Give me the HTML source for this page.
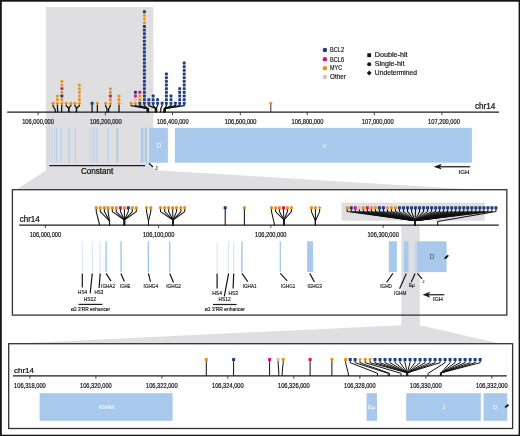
<!DOCTYPE html>
<html><head><meta charset="utf-8"><style>
html,body{margin:0;padding:0;background:#fff;}
svg{display:block;will-change:transform;font-family:"Liberation Sans", sans-serif;}
</style></head><body>
<svg width="520" height="436" viewBox="0 0 520 436">
<rect width="520" height="436" fill="#fff"/>
<rect x="0.00" y="0.00" width="520.00" height="1.70" fill="#151515" />
<rect x="0.00" y="0.00" width="1.80" height="436.00" fill="#151515" />
<rect x="518.60" y="0.00" width="1.40" height="436.00" fill="#151515" />
<rect x="0.00" y="434.70" width="520.00" height="1.30" fill="#151515" />
<polygon points="45.80,7.00 153.30,7.00 153.30,128.00 148.90,128.00 148.90,162.70 155.50,170.30 478.00,189.70 16.00,189.70 45.80,170.50" fill="#DFDFE1"/>
<line x1="7.20" y1="112.20" x2="499.00" y2="112.20" stroke="#1c1c1c" stroke-width="1.3" />
<line x1="38.10" y1="112.20" x2="38.10" y2="115.30" stroke="#1c1c1c" stroke-width="0.8" />
<text x="38.05" y="123.90" font-size="6.4" text-anchor="middle" fill="#111" stroke="#111" stroke-width="0.192" textLength="31.80" lengthAdjust="spacingAndGlyphs" >106,000,000</text>
<line x1="105.40" y1="112.20" x2="105.40" y2="115.30" stroke="#1c1c1c" stroke-width="0.8" />
<text x="105.80" y="123.90" font-size="6.4" text-anchor="middle" fill="#111" stroke="#111" stroke-width="0.192" textLength="31.80" lengthAdjust="spacingAndGlyphs" >106,200,000</text>
<line x1="172.50" y1="112.20" x2="172.50" y2="115.30" stroke="#1c1c1c" stroke-width="0.8" />
<text x="172.80" y="123.90" font-size="6.4" text-anchor="middle" fill="#111" stroke="#111" stroke-width="0.192" textLength="31.80" lengthAdjust="spacingAndGlyphs" >106,400,000</text>
<line x1="240.30" y1="112.20" x2="240.30" y2="115.30" stroke="#1c1c1c" stroke-width="0.8" />
<text x="240.60" y="123.90" font-size="6.4" text-anchor="middle" fill="#111" stroke="#111" stroke-width="0.192" textLength="31.80" lengthAdjust="spacingAndGlyphs" >106,600,000</text>
<line x1="307.20" y1="112.20" x2="307.20" y2="115.30" stroke="#1c1c1c" stroke-width="0.8" />
<text x="307.50" y="123.90" font-size="6.4" text-anchor="middle" fill="#111" stroke="#111" stroke-width="0.192" textLength="31.80" lengthAdjust="spacingAndGlyphs" >106,800,000</text>
<line x1="374.40" y1="112.20" x2="374.40" y2="115.30" stroke="#1c1c1c" stroke-width="0.8" />
<text x="377.70" y="123.90" font-size="6.4" text-anchor="middle" fill="#111" stroke="#111" stroke-width="0.192" textLength="31.80" lengthAdjust="spacingAndGlyphs" >107,000,000</text>
<line x1="441.90" y1="112.20" x2="441.90" y2="115.30" stroke="#1c1c1c" stroke-width="0.8" />
<text x="444.00" y="123.90" font-size="6.4" text-anchor="middle" fill="#111" stroke="#111" stroke-width="0.192" textLength="31.80" lengthAdjust="spacingAndGlyphs" >107,200,000</text>
<text x="474.90" y="109.25" font-size="8.2" text-anchor="start" fill="#111" stroke="#111" stroke-width="0.246" textLength="20.50" lengthAdjust="spacingAndGlyphs" >chr14</text>
<rect x="47.30" y="127.90" width="0.80" height="34.80" fill="#A8C9EC" opacity="0.35"/>
<rect x="49.20" y="127.90" width="0.80" height="34.80" fill="#A8C9EC" opacity="0.45"/>
<rect x="51.65" y="127.90" width="0.90" height="34.80" fill="#A8C9EC" opacity="0.55"/>
<rect x="54.20" y="127.90" width="0.80" height="34.80" fill="#A8C9EC" opacity="0.45"/>
<rect x="55.90" y="127.90" width="1.00" height="34.80" fill="#A8C9EC" opacity="0.8"/>
<rect x="60.20" y="127.90" width="1.20" height="34.80" fill="#A8C9EC" opacity="0.7"/>
<rect x="68.35" y="127.90" width="1.30" height="34.80" fill="#A8C9EC" opacity="0.75"/>
<rect x="74.90" y="127.90" width="1.00" height="34.80" fill="#A8C9EC" opacity="0.8"/>
<rect x="89.35" y="127.90" width="0.90" height="34.80" fill="#A8C9EC" opacity="0.45"/>
<rect x="92.25" y="127.90" width="0.90" height="34.80" fill="#A8C9EC" opacity="0.5"/>
<rect x="93.65" y="127.90" width="0.90" height="34.80" fill="#A8C9EC" opacity="0.55"/>
<rect x="96.30" y="127.90" width="1.00" height="34.80" fill="#A8C9EC" opacity="0.75"/>
<rect x="107.85" y="127.90" width="0.90" height="34.80" fill="#A8C9EC" opacity="0.8"/>
<rect x="116.55" y="127.90" width="1.50" height="34.80" fill="#A8C9EC" opacity="1.0"/>
<rect x="140.80" y="127.90" width="2.70" height="34.80" fill="#A8C9EC" />
<rect x="144.80" y="127.90" width="2.10" height="34.80" fill="#A8C9EC" />
<rect x="148.90" y="127.90" width="19.00" height="34.80" fill="#A8C9EC" />
<rect x="174.90" y="127.90" width="297.00" height="34.80" fill="#A8C9EC" />
<text x="158.90" y="147.80" font-size="6.4" text-anchor="middle" fill="#F2F7FD" stroke="#F2F7FD" stroke-width="0.15" >D</text>
<text x="324.60" y="147.80" font-size="6.0" text-anchor="middle" fill="#EAF1FA" stroke="#EAF1FA" stroke-width="0.15" >V</text>
<line x1="49.20" y1="165.60" x2="145.00" y2="165.60" stroke="#1c1c1c" stroke-width="1.2" />
<text x="81.00" y="174.40" font-size="8.3" text-anchor="start" fill="#111" stroke="#111" stroke-width="0.249" textLength="32.30" lengthAdjust="spacingAndGlyphs" >Constant</text>
<line x1="149.00" y1="163.20" x2="153.00" y2="167.00" stroke="#1c1c1c" stroke-width="1.2" />
<text x="155.00" y="169.80" font-size="5.2" text-anchor="start" fill="#333" stroke="#333" stroke-width="0.156" >J</text>
<line x1="439.00" y1="166.70" x2="470.10" y2="166.70" stroke="#3a3a3a" stroke-width="1.5" />
<polygon points="433.60,166.70 441.80,163.80 439.80,166.70 441.80,169.60" fill="#1c1c1c"/>
<text x="458.50" y="173.60" font-size="5.8" text-anchor="start" fill="#1a1a1a" stroke="#1a1a1a" stroke-width="0.174" textLength="10.90" lengthAdjust="spacingAndGlyphs" >IGH</text>
<circle cx="324.9" cy="50.10" r="2.25" fill="#1E3E7C"/>
<text x="330.10" y="52.30" font-size="6.6" text-anchor="start" fill="#222" stroke="#222" stroke-width="0.198" textLength="14.00" lengthAdjust="spacingAndGlyphs" >BCL2</text>
<circle cx="324.9" cy="59.30" r="2.25" fill="#D2147F"/>
<text x="330.10" y="61.50" font-size="6.6" text-anchor="start" fill="#222" stroke="#222" stroke-width="0.198" textLength="14.00" lengthAdjust="spacingAndGlyphs" >BCL6</text>
<circle cx="324.9" cy="68.20" r="2.25" fill="#E8901E"/>
<text x="330.10" y="70.40" font-size="6.6" text-anchor="start" fill="#222" stroke="#222" stroke-width="0.198" textLength="11.90" lengthAdjust="spacingAndGlyphs" >MYC</text>
<circle cx="324.9" cy="77.10" r="2.25" fill="#C9C9CD"/>
<text x="330.10" y="79.30" font-size="6.6" text-anchor="start" fill="#222" stroke="#222" stroke-width="0.198" textLength="15.70" lengthAdjust="spacingAndGlyphs" >Other</text>
<rect x="367.30" y="53.30" width="3.80" height="3.80" fill="#111" />
<circle cx="369.2" cy="64.2" r="2.0" fill="#111"/>
<polygon points="369.2,70.6 371.6,73.0 369.2,75.4 366.8,73.0" fill="#111"/>
<text x="374.80" y="57.30" font-size="6.7" text-anchor="start" fill="#222" stroke="#222" stroke-width="0.201" textLength="32.80" lengthAdjust="spacingAndGlyphs" >Double-hit</text>
<text x="374.80" y="66.40" font-size="6.7" text-anchor="start" fill="#222" stroke="#222" stroke-width="0.201" textLength="29.60" lengthAdjust="spacingAndGlyphs" >Single-hit</text>
<text x="374.80" y="75.20" font-size="6.7" text-anchor="start" fill="#222" stroke="#222" stroke-width="0.201" textLength="42.30" lengthAdjust="spacingAndGlyphs" >Undetermined</text>
<polyline points="53.00,104.50 53.00,105.70 55.30,110.00 55.30,112.20" fill="none" stroke="#111" stroke-width="1.25" stroke-linejoin="round"/>
<polyline points="57.40,104.50 57.40,105.70 57.60,110.00 57.60,112.20" fill="none" stroke="#111" stroke-width="1.25" stroke-linejoin="round"/>
<polyline points="61.90,104.50 61.90,105.70 61.60,110.00 61.60,112.20" fill="none" stroke="#111" stroke-width="1.25" stroke-linejoin="round"/>
<polyline points="66.20,104.50 66.20,105.70 68.80,108.20 68.80,112.20" fill="none" stroke="#111" stroke-width="1.25" stroke-linejoin="round"/>
<polyline points="70.80,104.50 70.80,105.70 68.80,108.20 68.80,112.20" fill="none" stroke="#111" stroke-width="1.25" stroke-linejoin="round"/>
<polyline points="74.90,104.50 74.90,105.70 76.50,108.20 76.50,112.20" fill="none" stroke="#111" stroke-width="1.25" stroke-linejoin="round"/>
<polyline points="79.40,104.50 79.40,105.70 76.50,108.20 76.50,112.20" fill="none" stroke="#111" stroke-width="1.25" stroke-linejoin="round"/>
<polyline points="92.10,104.50 92.10,105.70 92.10,110.00 92.10,112.20" fill="none" stroke="#111" stroke-width="1.25" stroke-linejoin="round"/>
<polyline points="97.40,104.50 97.40,105.70 97.40,110.00 97.40,112.20" fill="none" stroke="#111" stroke-width="1.25" stroke-linejoin="round"/>
<polyline points="105.60,104.50 105.60,105.70 107.00,109.00 107.00,112.20" fill="none" stroke="#111" stroke-width="1.25" stroke-linejoin="round"/>
<polyline points="110.40,104.50 110.40,105.70 108.60,109.00 108.60,112.20" fill="none" stroke="#111" stroke-width="1.25" stroke-linejoin="round"/>
<polyline points="119.00,104.50 119.00,105.70 119.00,110.00 119.00,112.20" fill="none" stroke="#111" stroke-width="1.25" stroke-linejoin="round"/>
<polyline points="131.10,104.50 131.10,105.70 147.80,108.60 147.80,112.20" fill="none" stroke="#111" stroke-width="1.25" stroke-linejoin="round"/>
<polyline points="135.40,104.50 135.40,105.70 147.80,108.60 147.80,112.20" fill="none" stroke="#111" stroke-width="1.25" stroke-linejoin="round"/>
<polyline points="139.80,104.50 139.80,105.70 147.80,108.60 147.80,112.20" fill="none" stroke="#111" stroke-width="1.25" stroke-linejoin="round"/>
<polyline points="144.40,104.50 144.40,105.70 147.80,108.60 147.80,112.20" fill="none" stroke="#111" stroke-width="1.25" stroke-linejoin="round"/>
<polyline points="148.80,104.50 148.80,105.70 156.00,108.60 156.00,112.20" fill="none" stroke="#111" stroke-width="1.25" stroke-linejoin="round"/>
<polyline points="153.20,104.50 153.20,105.70 156.00,108.60 156.00,112.20" fill="none" stroke="#111" stroke-width="1.25" stroke-linejoin="round"/>
<polyline points="157.60,104.50 157.60,105.70 156.00,108.60 156.00,112.20" fill="none" stroke="#111" stroke-width="1.25" stroke-linejoin="round"/>
<polyline points="162.10,104.50 162.10,105.70 160.80,108.60 160.80,112.20" fill="none" stroke="#111" stroke-width="1.25" stroke-linejoin="round"/>
<polyline points="166.40,104.50 166.40,105.70 164.60,108.60 164.60,112.20" fill="none" stroke="#111" stroke-width="1.25" stroke-linejoin="round"/>
<polyline points="171.00,104.50 171.00,105.70 164.60,108.60 164.60,112.20" fill="none" stroke="#111" stroke-width="1.25" stroke-linejoin="round"/>
<polyline points="175.40,104.50 175.40,105.70 164.60,108.60 164.60,112.20" fill="none" stroke="#111" stroke-width="1.25" stroke-linejoin="round"/>
<polyline points="179.70,104.50 179.70,105.70 164.60,108.60 164.60,112.20" fill="none" stroke="#111" stroke-width="1.25" stroke-linejoin="round"/>
<polyline points="184.20,104.50 184.20,105.70 164.60,108.60 164.60,112.20" fill="none" stroke="#111" stroke-width="1.25" stroke-linejoin="round"/>
<line x1="270.80" y1="103.30" x2="270.80" y2="112.20" stroke="#1c1c1c" stroke-width="0.9" />
<line x1="147.80" y1="108.30" x2="147.80" y2="112.20" stroke="#111" stroke-width="2.6" />
<line x1="156.00" y1="108.30" x2="156.00" y2="112.20" stroke="#111" stroke-width="2.6" />
<line x1="164.60" y1="108.30" x2="164.60" y2="112.20" stroke="#111" stroke-width="2.6" />
<circle cx="53.00" cy="103.30" r="1.52" fill="#E8901E"/>
<circle cx="57.40" cy="103.30" r="1.52" fill="#E8901E"/>
<circle cx="57.40" cy="99.64" r="1.52" fill="#E8901E"/>
<circle cx="57.40" cy="95.98" r="1.52" fill="#E8901E"/>
<circle cx="61.90" cy="103.30" r="1.52" fill="#E8901E"/>
<circle cx="61.90" cy="99.64" r="1.52" fill="#E8901E"/>
<rect x="60.45" y="94.53" width="2.90" height="2.90" rx="0.6" fill="#1E3E7C"/>
<circle cx="61.90" cy="92.32" r="1.52" fill="#E8901E"/>
<rect x="60.45" y="87.21" width="2.90" height="2.90" rx="0.6" fill="#D2147F"/>
<circle cx="61.90" cy="85.00" r="1.52" fill="#E8901E"/>
<circle cx="61.90" cy="81.34" r="1.52" fill="#E8901E"/>
<circle cx="66.20" cy="103.30" r="1.52" fill="#E8901E"/>
<circle cx="70.80" cy="103.30" r="1.52" fill="#E8901E"/>
<circle cx="74.90" cy="103.30" r="1.52" fill="#E8901E"/>
<circle cx="79.40" cy="103.30" r="1.52" fill="#E8901E"/>
<circle cx="79.40" cy="99.64" r="1.52" fill="#E8901E"/>
<polygon points="79.40,94.24 81.14,95.98 79.40,97.72 77.66,95.98" fill="#E8901E"/>
<circle cx="79.40" cy="92.32" r="1.52" fill="#E8901E"/>
<circle cx="79.40" cy="88.66" r="1.52" fill="#E8901E"/>
<circle cx="79.40" cy="85.00" r="1.52" fill="#E8901E"/>
<rect x="90.65" y="101.85" width="2.90" height="2.90" rx="0.6" fill="#1E3E7C"/>
<circle cx="97.40" cy="103.30" r="1.52" fill="#E8901E"/>
<circle cx="105.60" cy="103.30" r="1.52" fill="#E8901E"/>
<circle cx="110.40" cy="103.30" r="1.52" fill="#E8901E"/>
<circle cx="110.40" cy="99.64" r="1.52" fill="#E8901E"/>
<rect x="108.95" y="94.53" width="2.90" height="2.90" rx="0.6" fill="#D2147F"/>
<circle cx="110.40" cy="92.32" r="1.52" fill="#E8901E"/>
<circle cx="110.40" cy="88.66" r="1.52" fill="#E8901E"/>
<circle cx="119.00" cy="103.30" r="1.52" fill="#E8901E"/>
<circle cx="119.00" cy="99.64" r="1.52" fill="#E8901E"/>
<circle cx="119.00" cy="95.98" r="1.52" fill="#E8901E"/>
<circle cx="131.10" cy="103.30" r="1.52" fill="#E8901E"/>
<circle cx="135.40" cy="103.30" r="1.52" fill="#E8901E"/>
<circle cx="135.40" cy="99.64" r="1.52" fill="#C9C9CD"/>
<rect x="133.95" y="94.53" width="2.90" height="2.90" rx="0.6" fill="#D2147F"/>
<rect x="133.95" y="90.87" width="2.90" height="2.90" rx="0.6" fill="#1E3E7C"/>
<rect x="138.35" y="101.85" width="2.90" height="2.90" rx="0.6" fill="#1E3E7C"/>
<circle cx="139.80" cy="99.64" r="1.52" fill="#E8901E"/>
<circle cx="139.80" cy="95.98" r="1.52" fill="#E8901E"/>
<rect x="138.35" y="90.87" width="2.90" height="2.90" rx="0.6" fill="#D2147F"/>
<rect x="142.95" y="101.85" width="2.90" height="2.90" rx="0.6" fill="#1E3E7C"/>
<rect x="142.95" y="98.19" width="2.90" height="2.90" rx="0.6" fill="#1E3E7C"/>
<rect x="142.95" y="94.53" width="2.90" height="2.90" rx="0.6" fill="#1E3E7C"/>
<rect x="142.95" y="90.87" width="2.90" height="2.90" rx="0.6" fill="#1E3E7C"/>
<rect x="142.95" y="87.21" width="2.90" height="2.90" rx="0.6" fill="#1E3E7C"/>
<rect x="142.95" y="83.55" width="2.90" height="2.90" rx="0.6" fill="#1E3E7C"/>
<rect x="142.95" y="79.89" width="2.90" height="2.90" rx="0.6" fill="#1E3E7C"/>
<rect x="142.95" y="76.23" width="2.90" height="2.90" rx="0.6" fill="#1E3E7C"/>
<rect x="142.95" y="72.57" width="2.90" height="2.90" rx="0.6" fill="#1E3E7C"/>
<rect x="142.95" y="68.91" width="2.90" height="2.90" rx="0.6" fill="#1E3E7C"/>
<rect x="142.95" y="65.25" width="2.90" height="2.90" rx="0.6" fill="#1E3E7C"/>
<rect x="142.95" y="61.59" width="2.90" height="2.90" rx="0.6" fill="#1E3E7C"/>
<rect x="142.95" y="57.93" width="2.90" height="2.90" rx="0.6" fill="#1E3E7C"/>
<rect x="142.95" y="54.27" width="2.90" height="2.90" rx="0.6" fill="#1E3E7C"/>
<rect x="142.95" y="50.61" width="2.90" height="2.90" rx="0.6" fill="#1E3E7C"/>
<rect x="142.95" y="46.95" width="2.90" height="2.90" rx="0.6" fill="#1E3E7C"/>
<rect x="142.95" y="43.29" width="2.90" height="2.90" rx="0.6" fill="#1E3E7C"/>
<rect x="142.95" y="39.63" width="2.90" height="2.90" rx="0.6" fill="#1E3E7C"/>
<rect x="142.95" y="35.97" width="2.90" height="2.90" rx="0.6" fill="#1E3E7C"/>
<rect x="142.95" y="32.31" width="2.90" height="2.90" rx="0.6" fill="#1E3E7C"/>
<rect x="142.95" y="28.65" width="2.90" height="2.90" rx="0.6" fill="#1E3E7C"/>
<rect x="142.95" y="24.99" width="2.90" height="2.90" rx="0.6" fill="#1E3E7C"/>
<circle cx="144.40" cy="22.78" r="1.52" fill="#E8901E"/>
<polygon points="144.40,17.38 146.14,19.12 144.40,20.86 142.66,19.12" fill="#E8901E"/>
<circle cx="144.40" cy="15.46" r="1.52" fill="#E8901E"/>
<rect x="142.95" y="10.35" width="2.90" height="2.90" rx="0.6" fill="#1E3E7C"/>
<rect x="147.35" y="101.85" width="2.90" height="2.90" rx="0.6" fill="#1E3E7C"/>
<rect x="147.35" y="98.19" width="2.90" height="2.90" rx="0.6" fill="#1E3E7C"/>
<rect x="151.75" y="101.85" width="2.90" height="2.90" rx="0.6" fill="#1E3E7C"/>
<rect x="151.75" y="98.19" width="2.90" height="2.90" rx="0.6" fill="#1E3E7C"/>
<rect x="151.75" y="94.53" width="2.90" height="2.90" rx="0.6" fill="#1E3E7C"/>
<rect x="156.15" y="101.85" width="2.90" height="2.90" rx="0.6" fill="#1E3E7C"/>
<rect x="156.15" y="98.19" width="2.90" height="2.90" rx="0.6" fill="#1E3E7C"/>
<rect x="160.65" y="101.85" width="2.90" height="2.90" rx="0.6" fill="#1E3E7C"/>
<rect x="164.95" y="101.85" width="2.90" height="2.90" rx="0.6" fill="#1E3E7C"/>
<rect x="164.95" y="98.19" width="2.90" height="2.90" rx="0.6" fill="#1E3E7C"/>
<rect x="164.95" y="94.53" width="2.90" height="2.90" rx="0.6" fill="#1E3E7C"/>
<rect x="164.95" y="90.87" width="2.90" height="2.90" rx="0.6" fill="#1E3E7C"/>
<rect x="164.95" y="87.21" width="2.90" height="2.90" rx="0.6" fill="#1E3E7C"/>
<rect x="164.95" y="83.55" width="2.90" height="2.90" rx="0.6" fill="#1E3E7C"/>
<rect x="164.95" y="79.89" width="2.90" height="2.90" rx="0.6" fill="#1E3E7C"/>
<rect x="164.95" y="76.23" width="2.90" height="2.90" rx="0.6" fill="#1E3E7C"/>
<rect x="164.95" y="72.57" width="2.90" height="2.90" rx="0.6" fill="#1E3E7C"/>
<rect x="169.55" y="101.85" width="2.90" height="2.90" rx="0.6" fill="#1E3E7C"/>
<rect x="169.55" y="98.19" width="2.90" height="2.90" rx="0.6" fill="#1E3E7C"/>
<rect x="169.55" y="94.53" width="2.90" height="2.90" rx="0.6" fill="#1E3E7C"/>
<rect x="173.95" y="101.85" width="2.90" height="2.90" rx="0.6" fill="#1E3E7C"/>
<rect x="178.25" y="101.85" width="2.90" height="2.90" rx="0.6" fill="#1E3E7C"/>
<rect x="178.25" y="98.19" width="2.90" height="2.90" rx="0.6" fill="#1E3E7C"/>
<rect x="178.25" y="94.53" width="2.90" height="2.90" rx="0.6" fill="#1E3E7C"/>
<rect x="178.25" y="90.87" width="2.90" height="2.90" rx="0.6" fill="#1E3E7C"/>
<rect x="178.25" y="87.21" width="2.90" height="2.90" rx="0.6" fill="#1E3E7C"/>
<rect x="182.75" y="101.85" width="2.90" height="2.90" rx="0.6" fill="#1E3E7C"/>
<rect x="182.75" y="98.19" width="2.90" height="2.90" rx="0.6" fill="#1E3E7C"/>
<rect x="182.75" y="94.53" width="2.90" height="2.90" rx="0.6" fill="#1E3E7C"/>
<rect x="182.75" y="90.87" width="2.90" height="2.90" rx="0.6" fill="#1E3E7C"/>
<rect x="182.75" y="87.21" width="2.90" height="2.90" rx="0.6" fill="#1E3E7C"/>
<rect x="182.75" y="83.55" width="2.90" height="2.90" rx="0.6" fill="#1E3E7C"/>
<rect x="182.75" y="79.89" width="2.90" height="2.90" rx="0.6" fill="#1E3E7C"/>
<rect x="182.75" y="76.23" width="2.90" height="2.90" rx="0.6" fill="#1E3E7C"/>
<rect x="182.75" y="72.57" width="2.90" height="2.90" rx="0.6" fill="#1E3E7C"/>
<rect x="182.75" y="68.91" width="2.90" height="2.90" rx="0.6" fill="#1E3E7C"/>
<rect x="182.75" y="65.25" width="2.90" height="2.90" rx="0.6" fill="#1E3E7C"/>
<rect x="182.75" y="61.59" width="2.90" height="2.90" rx="0.6" fill="#1E3E7C"/>
<circle cx="270.80" cy="103.30" r="1.52" fill="#E8901E"/>
<polygon points="401.30,226.00 419.80,226.00 419.80,325.20 501.50,343.70 12.00,343.70 401.30,325.20" fill="#DFDFE1"/>
<rect x="12.4" y="189.7" width="494.4" height="125.4" fill="none" stroke="#333" stroke-width="1.3"/>
<rect x="341.50" y="202.60" width="143.30" height="18.10" fill="#DFDFE1" />
<line x1="19.20" y1="225.20" x2="498.80" y2="225.20" stroke="#1c1c1c" stroke-width="1.3" />
<text x="19.75" y="221.80" font-size="8.2" text-anchor="start" fill="#111" stroke="#111" stroke-width="0.246" textLength="19.90" lengthAdjust="spacingAndGlyphs" >chr14</text>
<line x1="45.40" y1="225.20" x2="45.40" y2="227.90" stroke="#1c1c1c" stroke-width="0.8" />
<text x="45.40" y="236.90" font-size="6.4" text-anchor="middle" fill="#111" stroke="#111" stroke-width="0.192" textLength="31.40" lengthAdjust="spacingAndGlyphs" >106,000,000</text>
<line x1="158.60" y1="225.20" x2="158.60" y2="227.90" stroke="#1c1c1c" stroke-width="0.8" />
<text x="158.60" y="236.90" font-size="6.4" text-anchor="middle" fill="#111" stroke="#111" stroke-width="0.192" textLength="31.40" lengthAdjust="spacingAndGlyphs" >106,100,000</text>
<line x1="270.80" y1="225.20" x2="270.80" y2="227.90" stroke="#1c1c1c" stroke-width="0.8" />
<text x="270.80" y="236.90" font-size="6.4" text-anchor="middle" fill="#111" stroke="#111" stroke-width="0.192" textLength="31.40" lengthAdjust="spacingAndGlyphs" >106,200,000</text>
<line x1="383.10" y1="225.20" x2="383.10" y2="227.90" stroke="#1c1c1c" stroke-width="0.8" />
<text x="383.10" y="236.90" font-size="6.4" text-anchor="middle" fill="#111" stroke="#111" stroke-width="0.192" textLength="31.40" lengthAdjust="spacingAndGlyphs" >106,300,000</text>
<polyline points="96.25,209.00 96.25,211.60 99.40,224.00 99.40,225.20" fill="none" stroke="#111" stroke-width="1.05" stroke-linejoin="round"/>
<polyline points="100.30,209.00 100.30,211.60 109.50,221.00 109.50,225.20" fill="none" stroke="#111" stroke-width="1.05" stroke-linejoin="round"/>
<polyline points="104.40,209.00 104.40,211.60 109.50,221.00 109.50,225.20" fill="none" stroke="#111" stroke-width="1.05" stroke-linejoin="round"/>
<polyline points="108.10,209.00 108.10,211.60 109.50,221.00 109.50,225.20" fill="none" stroke="#111" stroke-width="1.05" stroke-linejoin="round"/>
<polyline points="112.30,209.00 112.30,211.60 124.40,220.00 124.40,225.20" fill="none" stroke="#111" stroke-width="1.05" stroke-linejoin="round"/>
<polyline points="116.25,209.00 116.25,211.60 124.40,220.00 124.40,225.20" fill="none" stroke="#111" stroke-width="1.05" stroke-linejoin="round"/>
<polyline points="120.40,209.00 120.40,211.60 124.40,220.00 124.40,225.20" fill="none" stroke="#111" stroke-width="1.05" stroke-linejoin="round"/>
<polyline points="124.40,209.00 124.40,211.60 124.40,220.00 124.40,225.20" fill="none" stroke="#111" stroke-width="1.05" stroke-linejoin="round"/>
<polyline points="128.30,209.00 128.30,211.60 124.40,220.00 124.40,225.20" fill="none" stroke="#111" stroke-width="1.05" stroke-linejoin="round"/>
<polyline points="132.30,209.00 132.30,211.60 124.40,220.00 124.40,225.20" fill="none" stroke="#111" stroke-width="1.05" stroke-linejoin="round"/>
<polyline points="136.30,209.00 136.30,211.60 124.40,220.00 124.40,225.20" fill="none" stroke="#111" stroke-width="1.05" stroke-linejoin="round"/>
<polyline points="146.50,209.00 146.50,211.60 148.50,221.00 148.50,225.20" fill="none" stroke="#111" stroke-width="1.05" stroke-linejoin="round"/>
<polyline points="150.80,209.00 150.80,211.60 148.50,221.00 148.50,225.20" fill="none" stroke="#111" stroke-width="1.05" stroke-linejoin="round"/>
<polyline points="160.50,209.00 160.50,211.60 173.00,220.00 173.00,225.20" fill="none" stroke="#111" stroke-width="1.05" stroke-linejoin="round"/>
<polyline points="164.70,209.00 164.70,211.60 173.00,220.00 173.00,225.20" fill="none" stroke="#111" stroke-width="1.05" stroke-linejoin="round"/>
<polyline points="168.60,209.00 168.60,211.60 173.00,220.00 173.00,225.20" fill="none" stroke="#111" stroke-width="1.05" stroke-linejoin="round"/>
<polyline points="172.70,209.00 172.70,211.60 173.00,220.00 173.00,225.20" fill="none" stroke="#111" stroke-width="1.05" stroke-linejoin="round"/>
<polyline points="176.50,209.00 176.50,211.60 173.00,220.00 173.00,225.20" fill="none" stroke="#111" stroke-width="1.05" stroke-linejoin="round"/>
<polyline points="180.90,209.00 180.90,211.60 173.00,220.00 173.00,225.20" fill="none" stroke="#111" stroke-width="1.05" stroke-linejoin="round"/>
<polyline points="184.70,209.00 184.70,211.60 173.00,220.00 173.00,225.20" fill="none" stroke="#111" stroke-width="1.05" stroke-linejoin="round"/>
<polyline points="225.20,209.00 225.20,211.60 225.20,222.00 225.20,225.20" fill="none" stroke="#111" stroke-width="1.05" stroke-linejoin="round"/>
<polyline points="244.40,209.00 244.40,211.60 244.40,222.00 244.40,225.20" fill="none" stroke="#111" stroke-width="1.05" stroke-linejoin="round"/>
<polyline points="271.50,209.00 271.50,211.60 274.40,224.00 274.40,225.20" fill="none" stroke="#111" stroke-width="1.05" stroke-linejoin="round"/>
<polyline points="275.60,209.00 275.60,211.60 284.00,220.00 284.00,225.20" fill="none" stroke="#111" stroke-width="1.05" stroke-linejoin="round"/>
<polyline points="279.40,209.00 279.40,211.60 284.00,220.00 284.00,225.20" fill="none" stroke="#111" stroke-width="1.05" stroke-linejoin="round"/>
<polyline points="283.50,209.00 283.50,211.60 284.00,220.00 284.00,225.20" fill="none" stroke="#111" stroke-width="1.05" stroke-linejoin="round"/>
<polyline points="287.40,209.00 287.40,211.60 284.00,220.00 284.00,225.20" fill="none" stroke="#111" stroke-width="1.05" stroke-linejoin="round"/>
<polyline points="291.40,209.00 291.40,211.60 284.00,220.00 284.00,225.20" fill="none" stroke="#111" stroke-width="1.05" stroke-linejoin="round"/>
<polyline points="311.40,209.00 311.40,211.60 315.40,221.00 315.40,225.20" fill="none" stroke="#111" stroke-width="1.05" stroke-linejoin="round"/>
<polyline points="315.40,209.00 315.40,211.60 315.40,221.00 315.40,225.20" fill="none" stroke="#111" stroke-width="1.05" stroke-linejoin="round"/>
<polyline points="319.60,209.00 319.60,211.60 315.40,221.00 315.40,225.20" fill="none" stroke="#111" stroke-width="1.05" stroke-linejoin="round"/>
<polyline points="347.20,209.00 347.20,211.60 415.00,220.80 415.00,225.20" fill="none" stroke="#111" stroke-width="1.05" stroke-linejoin="round"/>
<polyline points="351.22,209.00 351.22,211.60 415.00,220.80 415.00,225.20" fill="none" stroke="#111" stroke-width="1.05" stroke-linejoin="round"/>
<polyline points="355.24,209.00 355.24,211.60 415.00,220.80 415.00,225.20" fill="none" stroke="#111" stroke-width="1.05" stroke-linejoin="round"/>
<polyline points="359.26,209.00 359.26,211.60 415.00,220.80 415.00,225.20" fill="none" stroke="#111" stroke-width="1.05" stroke-linejoin="round"/>
<polyline points="363.28,209.00 363.28,211.60 415.00,220.80 415.00,225.20" fill="none" stroke="#111" stroke-width="1.05" stroke-linejoin="round"/>
<polyline points="367.30,209.00 367.30,211.60 415.00,220.80 415.00,225.20" fill="none" stroke="#111" stroke-width="1.05" stroke-linejoin="round"/>
<polyline points="371.32,209.00 371.32,211.60 415.00,220.80 415.00,225.20" fill="none" stroke="#111" stroke-width="1.05" stroke-linejoin="round"/>
<polyline points="375.34,209.00 375.34,211.60 415.00,220.80 415.00,225.20" fill="none" stroke="#111" stroke-width="1.05" stroke-linejoin="round"/>
<polyline points="379.36,209.00 379.36,211.60 415.00,220.80 415.00,225.20" fill="none" stroke="#111" stroke-width="1.05" stroke-linejoin="round"/>
<polyline points="383.38,209.00 383.38,211.60 415.00,220.80 415.00,225.20" fill="none" stroke="#111" stroke-width="1.05" stroke-linejoin="round"/>
<polyline points="387.40,209.00 387.40,211.60 415.00,220.80 415.00,225.20" fill="none" stroke="#111" stroke-width="1.05" stroke-linejoin="round"/>
<polyline points="391.42,209.00 391.42,211.60 415.00,220.80 415.00,225.20" fill="none" stroke="#111" stroke-width="1.05" stroke-linejoin="round"/>
<polyline points="395.44,209.00 395.44,211.60 415.00,220.80 415.00,225.20" fill="none" stroke="#111" stroke-width="1.05" stroke-linejoin="round"/>
<polyline points="399.46,209.00 399.46,211.60 415.00,220.80 415.00,225.20" fill="none" stroke="#111" stroke-width="1.05" stroke-linejoin="round"/>
<polyline points="403.48,209.00 403.48,211.60 415.00,220.80 415.00,225.20" fill="none" stroke="#111" stroke-width="1.05" stroke-linejoin="round"/>
<polyline points="407.50,209.00 407.50,211.60 415.00,220.80 415.00,225.20" fill="none" stroke="#111" stroke-width="1.05" stroke-linejoin="round"/>
<polyline points="411.52,209.00 411.52,211.60 415.00,220.80 415.00,225.20" fill="none" stroke="#111" stroke-width="1.05" stroke-linejoin="round"/>
<polyline points="415.54,209.00 415.54,211.60 415.00,220.80 415.00,225.20" fill="none" stroke="#111" stroke-width="1.05" stroke-linejoin="round"/>
<polyline points="419.56,209.00 419.56,211.60 415.00,220.80 415.00,225.20" fill="none" stroke="#111" stroke-width="1.05" stroke-linejoin="round"/>
<polyline points="423.58,209.00 423.58,211.60 415.00,220.80 415.00,225.20" fill="none" stroke="#111" stroke-width="1.05" stroke-linejoin="round"/>
<polyline points="427.60,209.00 427.60,211.60 415.00,220.80 415.00,225.20" fill="none" stroke="#111" stroke-width="1.05" stroke-linejoin="round"/>
<polyline points="431.62,209.00 431.62,211.60 415.00,220.80 415.00,225.20" fill="none" stroke="#111" stroke-width="1.05" stroke-linejoin="round"/>
<polyline points="435.64,209.00 435.64,211.60 415.00,220.80 415.00,225.20" fill="none" stroke="#111" stroke-width="1.05" stroke-linejoin="round"/>
<polyline points="439.66,209.00 439.66,211.60 415.00,220.80 415.00,225.20" fill="none" stroke="#111" stroke-width="1.05" stroke-linejoin="round"/>
<polyline points="443.68,209.00 443.68,211.60 415.00,220.80 415.00,225.20" fill="none" stroke="#111" stroke-width="1.05" stroke-linejoin="round"/>
<polyline points="447.70,209.00 447.70,211.60 415.00,220.80 415.00,225.20" fill="none" stroke="#111" stroke-width="1.05" stroke-linejoin="round"/>
<polyline points="451.72,209.00 451.72,211.60 415.00,220.80 415.00,225.20" fill="none" stroke="#111" stroke-width="1.05" stroke-linejoin="round"/>
<polyline points="455.74,209.00 455.74,211.60 415.00,220.80 415.00,225.20" fill="none" stroke="#111" stroke-width="1.05" stroke-linejoin="round"/>
<polyline points="459.76,209.00 459.76,211.60 415.00,220.80 415.00,225.20" fill="none" stroke="#111" stroke-width="1.05" stroke-linejoin="round"/>
<polyline points="463.78,209.00 463.78,211.60 415.00,220.80 415.00,225.20" fill="none" stroke="#111" stroke-width="1.05" stroke-linejoin="round"/>
<polyline points="467.80,209.00 467.80,211.60 415.00,220.80 415.00,225.20" fill="none" stroke="#111" stroke-width="1.05" stroke-linejoin="round"/>
<polyline points="471.82,209.00 471.82,211.60 415.00,220.80 415.00,225.20" fill="none" stroke="#111" stroke-width="1.05" stroke-linejoin="round"/>
<polyline points="475.84,209.00 475.84,211.60 415.00,220.80 415.00,225.20" fill="none" stroke="#111" stroke-width="1.05" stroke-linejoin="round"/>
<polyline points="479.86,209.00 479.86,211.60 415.00,220.80 415.00,225.20" fill="none" stroke="#111" stroke-width="1.05" stroke-linejoin="round"/>
<polyline points="483.88,209.00 483.88,211.60 415.00,220.80 415.00,225.20" fill="none" stroke="#111" stroke-width="1.05" stroke-linejoin="round"/>
<polyline points="487.90,209.00 487.90,211.60 415.00,220.80 415.00,225.20" fill="none" stroke="#111" stroke-width="1.05" stroke-linejoin="round"/>
<polyline points="491.92,209.00 491.92,211.60 415.00,220.80 415.00,225.20" fill="none" stroke="#111" stroke-width="1.05" stroke-linejoin="round"/>
<polyline points="495.94,209.00 495.94,211.60 437.70,221.50 437.70,225.20" fill="none" stroke="#111" stroke-width="1.05" stroke-linejoin="round"/>
<line x1="124.40" y1="220.00" x2="124.40" y2="225.20" stroke="#1c1c1c" stroke-width="2.0" />
<line x1="173.00" y1="220.00" x2="173.00" y2="225.20" stroke="#1c1c1c" stroke-width="2.0" />
<line x1="284.00" y1="220.00" x2="284.00" y2="225.20" stroke="#1c1c1c" stroke-width="2.0" />
<line x1="415.00" y1="220.80" x2="415.00" y2="225.20" stroke="#1c1c1c" stroke-width="2.0" />
<rect x="94.70" y="206.15" width="3.10" height="3.10" rx="0.6" fill="#E8901E"/>
<circle cx="100.30" cy="207.70" r="1.63" fill="#E8901E"/>
<rect x="102.85" y="206.15" width="3.10" height="3.10" rx="0.6" fill="#E8901E"/>
<rect x="106.55" y="206.15" width="3.10" height="3.10" rx="0.6" fill="#E8901E"/>
<rect x="110.75" y="206.15" width="3.10" height="3.10" rx="0.6" fill="#E8901E"/>
<rect x="114.70" y="206.15" width="3.10" height="3.10" rx="0.6" fill="#E8901E"/>
<rect x="118.85" y="206.15" width="3.10" height="3.10" rx="0.6" fill="#D2147F"/>
<rect x="122.85" y="206.15" width="3.10" height="3.10" rx="0.6" fill="#E8901E"/>
<rect x="126.75" y="206.15" width="3.10" height="3.10" rx="0.6" fill="#1E3E7C"/>
<rect x="130.75" y="206.15" width="3.10" height="3.10" rx="0.6" fill="#E8901E"/>
<rect x="134.75" y="206.15" width="3.10" height="3.10" rx="0.6" fill="#E8901E"/>
<circle cx="146.50" cy="207.70" r="1.63" fill="#E8901E"/>
<circle cx="150.80" cy="207.70" r="1.63" fill="#E8901E"/>
<circle cx="160.50" cy="207.70" r="1.63" fill="#E8901E"/>
<circle cx="164.70" cy="207.70" r="1.63" fill="#E8901E"/>
<circle cx="168.60" cy="207.70" r="1.63" fill="#E8901E"/>
<circle cx="172.70" cy="207.70" r="1.63" fill="#E8901E"/>
<circle cx="176.50" cy="207.70" r="1.63" fill="#E8901E"/>
<circle cx="180.90" cy="207.70" r="1.63" fill="#E8901E"/>
<circle cx="184.70" cy="207.70" r="1.63" fill="#E8901E"/>
<rect x="223.65" y="206.15" width="3.10" height="3.10" rx="0.6" fill="#1E3E7C"/>
<rect x="242.85" y="206.15" width="3.10" height="3.10" rx="0.6" fill="#E8901E"/>
<circle cx="271.50" cy="207.70" r="1.63" fill="#E8901E"/>
<circle cx="275.60" cy="207.70" r="1.63" fill="#E8901E"/>
<rect x="277.85" y="206.15" width="3.10" height="3.10" rx="0.6" fill="#E8901E"/>
<rect x="281.95" y="206.15" width="3.10" height="3.10" rx="0.6" fill="#D2147F"/>
<rect x="285.85" y="206.15" width="3.10" height="3.10" rx="0.6" fill="#E8901E"/>
<circle cx="291.40" cy="207.70" r="1.63" fill="#E8901E"/>
<rect x="309.85" y="206.15" width="3.10" height="3.10" rx="0.6" fill="#E8901E"/>
<circle cx="315.40" cy="207.70" r="1.63" fill="#E8901E"/>
<polygon points="319.60,205.84 321.46,207.70 319.60,209.56 317.74,207.70" fill="#E8901E"/>
<rect x="345.65" y="206.15" width="3.10" height="3.10" rx="0.6" fill="#E8901E"/>
<rect x="349.67" y="206.15" width="3.10" height="3.10" rx="0.6" fill="#1E3E7C"/>
<rect x="353.69" y="206.15" width="3.10" height="3.10" rx="0.6" fill="#D2147F"/>
<rect x="357.71" y="206.15" width="3.10" height="3.10" rx="0.6" fill="#C9C9CD"/>
<circle cx="363.28" cy="207.70" r="1.63" fill="#E8901E"/>
<rect x="365.75" y="206.15" width="3.10" height="3.10" rx="0.6" fill="#D2147F"/>
<circle cx="371.32" cy="207.70" r="1.63" fill="#E8901E"/>
<circle cx="375.34" cy="207.70" r="1.63" fill="#E8901E"/>
<rect x="377.81" y="206.15" width="3.10" height="3.10" rx="0.6" fill="#1E3E7C"/>
<rect x="381.83" y="206.15" width="3.10" height="3.10" rx="0.6" fill="#1E3E7C"/>
<polygon points="387.40,205.84 389.26,207.70 387.40,209.56 385.54,207.70" fill="#E8901E"/>
<circle cx="391.42" cy="207.70" r="1.63" fill="#E8901E"/>
<circle cx="395.44" cy="207.70" r="1.63" fill="#E8901E"/>
<rect x="397.91" y="206.15" width="3.10" height="3.10" rx="0.6" fill="#1E3E7C"/>
<rect x="401.93" y="206.15" width="3.10" height="3.10" rx="0.6" fill="#1E3E7C"/>
<rect x="405.95" y="206.15" width="3.10" height="3.10" rx="0.6" fill="#1E3E7C"/>
<rect x="409.97" y="206.15" width="3.10" height="3.10" rx="0.6" fill="#1E3E7C"/>
<rect x="413.99" y="206.15" width="3.10" height="3.10" rx="0.6" fill="#1E3E7C"/>
<rect x="418.01" y="206.15" width="3.10" height="3.10" rx="0.6" fill="#1E3E7C"/>
<rect x="422.03" y="206.15" width="3.10" height="3.10" rx="0.6" fill="#1E3E7C"/>
<rect x="426.05" y="206.15" width="3.10" height="3.10" rx="0.6" fill="#1E3E7C"/>
<rect x="430.07" y="206.15" width="3.10" height="3.10" rx="0.6" fill="#1E3E7C"/>
<rect x="434.09" y="206.15" width="3.10" height="3.10" rx="0.6" fill="#1E3E7C"/>
<rect x="438.11" y="206.15" width="3.10" height="3.10" rx="0.6" fill="#1E3E7C"/>
<rect x="442.13" y="206.15" width="3.10" height="3.10" rx="0.6" fill="#1E3E7C"/>
<rect x="446.15" y="206.15" width="3.10" height="3.10" rx="0.6" fill="#1E3E7C"/>
<rect x="450.17" y="206.15" width="3.10" height="3.10" rx="0.6" fill="#1E3E7C"/>
<rect x="454.19" y="206.15" width="3.10" height="3.10" rx="0.6" fill="#1E3E7C"/>
<rect x="458.21" y="206.15" width="3.10" height="3.10" rx="0.6" fill="#1E3E7C"/>
<rect x="462.23" y="206.15" width="3.10" height="3.10" rx="0.6" fill="#1E3E7C"/>
<rect x="466.25" y="206.15" width="3.10" height="3.10" rx="0.6" fill="#1E3E7C"/>
<rect x="470.27" y="206.15" width="3.10" height="3.10" rx="0.6" fill="#1E3E7C"/>
<rect x="474.29" y="206.15" width="3.10" height="3.10" rx="0.6" fill="#1E3E7C"/>
<rect x="478.31" y="206.15" width="3.10" height="3.10" rx="0.6" fill="#1E3E7C"/>
<rect x="482.33" y="206.15" width="3.10" height="3.10" rx="0.6" fill="#1E3E7C"/>
<rect x="486.35" y="206.15" width="3.10" height="3.10" rx="0.6" fill="#1E3E7C"/>
<rect x="490.37" y="206.15" width="3.10" height="3.10" rx="0.6" fill="#1E3E7C"/>
<rect x="494.39" y="206.15" width="3.10" height="3.10" rx="0.6" fill="#1E3E7C"/>
<rect x="81.90" y="241.30" width="0.80" height="30.80" fill="#A8C9EC" opacity="0.6"/>
<rect x="91.90" y="241.30" width="0.80" height="30.80" fill="#A8C9EC" opacity="0.6"/>
<rect x="99.55" y="241.30" width="1.10" height="30.80" fill="#A8C9EC" opacity="0.5"/>
<rect x="105.35" y="241.30" width="1.50" height="30.80" fill="#A8C9EC" opacity="1.0"/>
<rect x="120.35" y="241.30" width="1.50" height="30.80" fill="#A8C9EC" opacity="1.0"/>
<rect x="147.65" y="241.30" width="1.50" height="30.80" fill="#A8C9EC" opacity="1.0"/>
<rect x="168.95" y="241.30" width="1.50" height="30.80" fill="#A8C9EC" opacity="1.0"/>
<rect x="216.70" y="241.30" width="0.80" height="30.80" fill="#A8C9EC" opacity="0.6"/>
<rect x="228.10" y="241.30" width="1.00" height="30.80" fill="#A8C9EC" opacity="0.5"/>
<rect x="233.20" y="241.30" width="1.00" height="30.80" fill="#A8C9EC" opacity="0.55"/>
<rect x="241.15" y="241.30" width="1.50" height="30.80" fill="#A8C9EC" opacity="1.0"/>
<rect x="279.65" y="241.30" width="1.30" height="30.80" fill="#A8C9EC" opacity="1.0"/>
<rect x="307.10" y="241.30" width="6.00" height="30.80" fill="#A8C9EC" />
<rect x="388.80" y="241.30" width="8.10" height="30.80" fill="#A8C9EC" />
<rect x="403.80" y="241.30" width="4.80" height="30.80" fill="#A8C9EC" />
<rect x="414.60" y="241.30" width="0.90" height="30.80" fill="#A8C9EC" opacity="0.6"/>
<rect x="416.60" y="241.30" width="30.00" height="30.80" fill="#A8C9EC" />
<text x="432.10" y="259.00" font-size="6.4" text-anchor="middle" fill="#2E3F5C" >D</text>
<ellipse cx="446.5" cy="257.0" rx="2.7" ry="1.1" transform="rotate(-42 446.5 257.0)" fill="#111"/>
<line x1="82.30" y1="273.40" x2="82.30" y2="287.50" stroke="#151515" stroke-width="1.2" />
<text x="78.10" y="294.00" font-size="5.6" text-anchor="start" fill="#1a1a1a" stroke="#1a1a1a" stroke-width="0.168" textLength="9.00" lengthAdjust="spacingAndGlyphs" >HS4</text>
<line x1="92.30" y1="273.40" x2="90.20" y2="293.30" stroke="#151515" stroke-width="1.2" />
<text x="83.80" y="301.40" font-size="5.6" text-anchor="start" fill="#1a1a1a" stroke="#1a1a1a" stroke-width="0.168" textLength="12.30" lengthAdjust="spacingAndGlyphs" >HS12</text>
<line x1="100.20" y1="273.40" x2="99.10" y2="288.00" stroke="#151515" stroke-width="1.2" />
<text x="94.50" y="294.00" font-size="5.6" text-anchor="start" fill="#1a1a1a" stroke="#1a1a1a" stroke-width="0.168" textLength="8.90" lengthAdjust="spacingAndGlyphs" >HS3</text>
<line x1="106.10" y1="273.40" x2="111.00" y2="281.10" stroke="#151515" stroke-width="1.2" />
<text x="101.10" y="287.70" font-size="5.6" text-anchor="start" fill="#1a1a1a" stroke="#1a1a1a" stroke-width="0.168" textLength="13.90" lengthAdjust="spacingAndGlyphs" >IGHA2</text>
<line x1="120.90" y1="273.40" x2="124.40" y2="281.50" stroke="#151515" stroke-width="1.2" />
<text x="120.10" y="287.70" font-size="5.6" text-anchor="start" fill="#1a1a1a" stroke="#1a1a1a" stroke-width="0.168" textLength="10.30" lengthAdjust="spacingAndGlyphs" >IGHE</text>
<line x1="148.40" y1="273.40" x2="150.50" y2="281.80" stroke="#151515" stroke-width="1.2" />
<text x="143.60" y="287.70" font-size="5.6" text-anchor="start" fill="#1a1a1a" stroke="#1a1a1a" stroke-width="0.168" textLength="14.40" lengthAdjust="spacingAndGlyphs" >IGHG4</text>
<line x1="169.70" y1="273.40" x2="173.50" y2="282.50" stroke="#151515" stroke-width="1.2" />
<text x="166.20" y="288.40" font-size="5.6" text-anchor="start" fill="#1a1a1a" stroke="#1a1a1a" stroke-width="0.168" textLength="14.80" lengthAdjust="spacingAndGlyphs" >IGHG2</text>
<line x1="217.10" y1="273.40" x2="217.10" y2="288.50" stroke="#151515" stroke-width="1.2" />
<text x="212.20" y="295.00" font-size="5.6" text-anchor="start" fill="#1a1a1a" stroke="#1a1a1a" stroke-width="0.168" textLength="9.80" lengthAdjust="spacingAndGlyphs" >HS4</text>
<line x1="228.60" y1="273.40" x2="224.30" y2="296.30" stroke="#151515" stroke-width="1.2" />
<text x="218.50" y="301.40" font-size="5.6" text-anchor="start" fill="#1a1a1a" stroke="#1a1a1a" stroke-width="0.168" textLength="12.10" lengthAdjust="spacingAndGlyphs" >HS12</text>
<line x1="233.70" y1="273.40" x2="233.10" y2="288.50" stroke="#151515" stroke-width="1.2" />
<text x="228.60" y="295.00" font-size="5.6" text-anchor="start" fill="#1a1a1a" stroke="#1a1a1a" stroke-width="0.168" textLength="9.40" lengthAdjust="spacingAndGlyphs" >HS3</text>
<line x1="241.90" y1="273.40" x2="247.70" y2="281.70" stroke="#151515" stroke-width="1.2" />
<text x="242.80" y="287.70" font-size="5.6" text-anchor="start" fill="#1a1a1a" stroke="#1a1a1a" stroke-width="0.168" textLength="13.70" lengthAdjust="spacingAndGlyphs" >IGHA1</text>
<line x1="280.30" y1="273.40" x2="287.20" y2="280.80" stroke="#151515" stroke-width="1.2" />
<text x="281.10" y="287.70" font-size="5.6" text-anchor="start" fill="#1a1a1a" stroke="#1a1a1a" stroke-width="0.168" textLength="14.20" lengthAdjust="spacingAndGlyphs" >IGHG1</text>
<line x1="309.70" y1="273.40" x2="314.40" y2="282.00" stroke="#151515" stroke-width="1.2" />
<text x="307.40" y="287.70" font-size="5.6" text-anchor="start" fill="#1a1a1a" stroke="#1a1a1a" stroke-width="0.168" textLength="14.40" lengthAdjust="spacingAndGlyphs" >IGHG3</text>
<line x1="392.90" y1="273.40" x2="386.60" y2="282.50" stroke="#151515" stroke-width="1.2" />
<text x="380.20" y="288.40" font-size="5.6" text-anchor="start" fill="#1a1a1a" stroke="#1a1a1a" stroke-width="0.168" textLength="11.70" lengthAdjust="spacingAndGlyphs" >IGHD</text>
<line x1="406.30" y1="273.40" x2="399.60" y2="288.70" stroke="#151515" stroke-width="1.2" />
<text x="394.10" y="294.50" font-size="5.6" text-anchor="start" fill="#1a1a1a" stroke="#1a1a1a" stroke-width="0.168" textLength="12.20" lengthAdjust="spacingAndGlyphs" >IGHM</text>
<line x1="415.10" y1="273.40" x2="411.30" y2="281.90" stroke="#151515" stroke-width="1.2" />
<text x="409.00" y="287.00" font-size="5.6" text-anchor="start" fill="#1a1a1a" stroke="#1a1a1a" stroke-width="0.168" textLength="5.80" lengthAdjust="spacingAndGlyphs" >E&#956;</text>
<line x1="417.30" y1="273.40" x2="422.20" y2="278.80" stroke="#151515" stroke-width="1.2" />
<text x="422.20" y="282.70" font-size="4.3" text-anchor="start" fill="#333" stroke="#333" stroke-width="0.129" >J</text>
<line x1="78.50" y1="304.40" x2="102.40" y2="304.40" stroke="#1c1c1c" stroke-width="1.2" />
<text x="71.10" y="311.40" font-size="5.6" text-anchor="start" fill="#1a1a1a" stroke="#1a1a1a" stroke-width="0.168" textLength="39.00" lengthAdjust="spacingAndGlyphs" ><tspan font-weight="bold">&#945;</tspan>2 3'RR enhancer</text>
<line x1="213.00" y1="304.50" x2="236.60" y2="304.50" stroke="#1c1c1c" stroke-width="1.2" />
<text x="204.80" y="311.40" font-size="5.6" text-anchor="start" fill="#1a1a1a" stroke="#1a1a1a" stroke-width="0.168" textLength="40.00" lengthAdjust="spacingAndGlyphs" ><tspan font-weight="bold">&#945;</tspan>1 3'RR enhancer</text>
<line x1="428.00" y1="294.70" x2="444.30" y2="294.70" stroke="#3a3a3a" stroke-width="1.4" />
<polygon points="422.50,294.70 430.30,291.70 428.40,294.70 430.30,297.70" fill="#1c1c1c"/>
<text x="432.90" y="301.20" font-size="5.6" text-anchor="start" fill="#1a1a1a" stroke="#1a1a1a" stroke-width="0.168" textLength="10.00" lengthAdjust="spacingAndGlyphs" >IGH</text>
<rect x="8.7" y="343.7" width="503.9" height="84.8" fill="none" stroke="#333" stroke-width="1.3"/>
<line x1="13.00" y1="375.90" x2="506.80" y2="375.90" stroke="#1c1c1c" stroke-width="1.3" />
<text x="14.00" y="372.90" font-size="8.0" text-anchor="start" fill="#111" stroke="#111" stroke-width="0.24" textLength="20.00" lengthAdjust="spacingAndGlyphs" >chr14</text>
<line x1="29.90" y1="375.90" x2="29.90" y2="378.70" stroke="#1c1c1c" stroke-width="0.8" />
<text x="29.90" y="387.90" font-size="6.4" text-anchor="middle" fill="#111" stroke="#111" stroke-width="0.192" textLength="31.70" lengthAdjust="spacingAndGlyphs" >106,318,000</text>
<line x1="95.89" y1="375.90" x2="95.89" y2="378.70" stroke="#1c1c1c" stroke-width="0.8" />
<text x="95.89" y="387.90" font-size="6.4" text-anchor="middle" fill="#111" stroke="#111" stroke-width="0.192" textLength="31.70" lengthAdjust="spacingAndGlyphs" >106,320,000</text>
<line x1="161.88" y1="375.90" x2="161.88" y2="378.70" stroke="#1c1c1c" stroke-width="0.8" />
<text x="161.88" y="387.90" font-size="6.4" text-anchor="middle" fill="#111" stroke="#111" stroke-width="0.192" textLength="31.70" lengthAdjust="spacingAndGlyphs" >106,322,000</text>
<line x1="227.87" y1="375.90" x2="227.87" y2="378.70" stroke="#1c1c1c" stroke-width="0.8" />
<text x="227.87" y="387.90" font-size="6.4" text-anchor="middle" fill="#111" stroke="#111" stroke-width="0.192" textLength="31.70" lengthAdjust="spacingAndGlyphs" >106,324,000</text>
<line x1="293.86" y1="375.90" x2="293.86" y2="378.70" stroke="#1c1c1c" stroke-width="0.8" />
<text x="293.86" y="387.90" font-size="6.4" text-anchor="middle" fill="#111" stroke="#111" stroke-width="0.192" textLength="31.70" lengthAdjust="spacingAndGlyphs" >106,326,000</text>
<line x1="359.85" y1="375.90" x2="359.85" y2="378.70" stroke="#1c1c1c" stroke-width="0.8" />
<text x="359.85" y="387.90" font-size="6.4" text-anchor="middle" fill="#111" stroke="#111" stroke-width="0.192" textLength="31.70" lengthAdjust="spacingAndGlyphs" >106,328,000</text>
<line x1="425.84" y1="375.90" x2="425.84" y2="378.70" stroke="#1c1c1c" stroke-width="0.8" />
<text x="425.84" y="387.90" font-size="6.4" text-anchor="middle" fill="#111" stroke="#111" stroke-width="0.192" textLength="31.70" lengthAdjust="spacingAndGlyphs" >106,330,000</text>
<line x1="491.83" y1="375.90" x2="491.83" y2="378.70" stroke="#1c1c1c" stroke-width="0.8" />
<text x="491.83" y="387.90" font-size="6.4" text-anchor="middle" fill="#111" stroke="#111" stroke-width="0.192" textLength="31.70" lengthAdjust="spacingAndGlyphs" >106,332,000</text>
<polyline points="206.30,360.90 206.30,362.70 206.30,370.00 206.30,375.90" fill="none" stroke="#111" stroke-width="1.0" stroke-linejoin="round"/>
<polyline points="233.60,360.90 233.60,362.70 233.60,370.00 233.60,375.90" fill="none" stroke="#111" stroke-width="1.0" stroke-linejoin="round"/>
<polyline points="269.60,360.90 269.60,362.70 269.60,370.00 269.60,375.90" fill="none" stroke="#111" stroke-width="1.0" stroke-linejoin="round"/>
<polyline points="310.10,360.90 310.10,362.70 310.10,370.00 310.10,375.90" fill="none" stroke="#111" stroke-width="1.0" stroke-linejoin="round"/>
<polyline points="331.90,360.90 331.90,362.70 331.90,370.00 331.90,375.90" fill="none" stroke="#111" stroke-width="1.0" stroke-linejoin="round"/>
<polyline points="278.10,360.90 278.10,362.70 278.80,372.00 278.80,375.90" fill="none" stroke="#111" stroke-width="1.0" stroke-linejoin="round"/>
<polyline points="283.20,360.90 283.20,362.70 282.20,372.00 282.20,375.90" fill="none" stroke="#111" stroke-width="1.0" stroke-linejoin="round"/>
<polyline points="345.60,360.90 345.60,362.70 348.40,374.00 348.40,375.90" fill="none" stroke="#111" stroke-width="1.0" stroke-linejoin="round"/>
<polyline points="350.20,360.90 350.20,362.70 377.50,373.30 377.50,375.90" fill="none" stroke="#111" stroke-width="1.0" stroke-linejoin="round"/>
<polyline points="355.10,360.90 355.10,362.70 388.10,373.30 388.10,375.90" fill="none" stroke="#111" stroke-width="1.0" stroke-linejoin="round"/>
<polyline points="360.00,360.90 360.00,362.70 389.50,373.30 389.50,375.90" fill="none" stroke="#111" stroke-width="1.0" stroke-linejoin="round"/>
<polyline points="365.20,360.90 365.20,362.70 401.00,373.30 401.00,375.90" fill="none" stroke="#111" stroke-width="1.0" stroke-linejoin="round"/>
<polyline points="370.10,360.90 370.10,362.70 407.40,372.80 407.40,375.90" fill="none" stroke="#111" stroke-width="1.0" stroke-linejoin="round"/>
<polyline points="375.00,360.90 375.00,362.70 407.40,372.80 407.40,375.90" fill="none" stroke="#111" stroke-width="1.0" stroke-linejoin="round"/>
<polyline points="380.00,360.90 380.00,362.70 407.40,372.80 407.40,375.90" fill="none" stroke="#111" stroke-width="1.0" stroke-linejoin="round"/>
<polyline points="385.01,360.90 385.01,362.70 407.40,372.80 407.40,375.90" fill="none" stroke="#111" stroke-width="1.0" stroke-linejoin="round"/>
<polyline points="390.01,360.90 390.01,362.70 407.40,372.80 407.40,375.90" fill="none" stroke="#111" stroke-width="1.0" stroke-linejoin="round"/>
<polyline points="395.02,360.90 395.02,362.70 407.40,372.80 407.40,375.90" fill="none" stroke="#111" stroke-width="1.0" stroke-linejoin="round"/>
<polyline points="400.02,360.90 400.02,362.70 407.40,372.80 407.40,375.90" fill="none" stroke="#111" stroke-width="1.0" stroke-linejoin="round"/>
<polyline points="405.03,360.90 405.03,362.70 407.40,372.80 407.40,375.90" fill="none" stroke="#111" stroke-width="1.0" stroke-linejoin="round"/>
<polyline points="410.03,360.90 410.03,362.70 407.40,372.80 407.40,375.90" fill="none" stroke="#111" stroke-width="1.0" stroke-linejoin="round"/>
<polyline points="415.04,360.90 415.04,362.70 407.40,372.80 407.40,375.90" fill="none" stroke="#111" stroke-width="1.0" stroke-linejoin="round"/>
<polyline points="420.05,360.90 420.05,362.70 407.40,372.80 407.40,375.90" fill="none" stroke="#111" stroke-width="1.0" stroke-linejoin="round"/>
<polyline points="425.05,360.90 425.05,362.70 407.40,372.80 407.40,375.90" fill="none" stroke="#111" stroke-width="1.0" stroke-linejoin="round"/>
<polyline points="430.06,360.90 430.06,362.70 407.40,372.80 407.40,375.90" fill="none" stroke="#111" stroke-width="1.0" stroke-linejoin="round"/>
<polyline points="435.06,360.90 435.06,362.70 407.40,372.80 407.40,375.90" fill="none" stroke="#111" stroke-width="1.0" stroke-linejoin="round"/>
<polyline points="440.06,360.90 440.06,362.70 407.40,372.80 407.40,375.90" fill="none" stroke="#111" stroke-width="1.0" stroke-linejoin="round"/>
<polyline points="445.07,360.90 445.07,362.70 428.10,373.30 428.10,375.90" fill="none" stroke="#111" stroke-width="1.0" stroke-linejoin="round"/>
<polyline points="450.07,360.90 450.07,362.70 440.80,373.00 440.80,375.90" fill="none" stroke="#111" stroke-width="1.0" stroke-linejoin="round"/>
<polyline points="455.08,360.90 455.08,362.70 440.80,373.00 440.80,375.90" fill="none" stroke="#111" stroke-width="1.0" stroke-linejoin="round"/>
<polyline points="460.08,360.90 460.08,362.70 440.80,373.00 440.80,375.90" fill="none" stroke="#111" stroke-width="1.0" stroke-linejoin="round"/>
<polyline points="465.09,360.90 465.09,362.70 440.80,373.00 440.80,375.90" fill="none" stroke="#111" stroke-width="1.0" stroke-linejoin="round"/>
<polyline points="470.10,360.90 470.10,362.70 440.80,373.00 440.80,375.90" fill="none" stroke="#111" stroke-width="1.0" stroke-linejoin="round"/>
<polyline points="475.10,360.90 475.10,362.70 440.80,373.00 440.80,375.90" fill="none" stroke="#111" stroke-width="1.0" stroke-linejoin="round"/>
<polyline points="480.11,360.90 480.11,362.70 440.80,373.00 440.80,375.90" fill="none" stroke="#111" stroke-width="1.0" stroke-linejoin="round"/>
<line x1="407.40" y1="372.50" x2="407.40" y2="375.90" stroke="#1c1c1c" stroke-width="1.8" />
<line x1="440.80" y1="372.50" x2="440.80" y2="375.90" stroke="#1c1c1c" stroke-width="1.8" />
<rect x="204.75" y="357.95" width="3.10" height="3.10" rx="0.6" fill="#E8901E"/>
<rect x="232.05" y="357.95" width="3.10" height="3.10" rx="0.6" fill="#1E3E7C"/>
<rect x="268.05" y="357.95" width="3.10" height="3.10" rx="0.6" fill="#D2147F"/>
<rect x="276.55" y="357.95" width="3.10" height="3.10" rx="0.6" fill="#C9C9CD"/>
<circle cx="283.20" cy="359.50" r="1.63" fill="#E8901E"/>
<rect x="308.55" y="357.95" width="3.10" height="3.10" rx="0.6" fill="#D2147F"/>
<circle cx="331.90" cy="359.50" r="1.63" fill="#E8901E"/>
<rect x="344.05" y="357.95" width="3.10" height="3.10" rx="0.6" fill="#E8901E"/>
<rect x="348.65" y="357.95" width="3.10" height="3.10" rx="0.6" fill="#1E3E7C"/>
<rect x="353.55" y="357.95" width="3.10" height="3.10" rx="0.6" fill="#1E3E7C"/>
<polygon points="360.00,357.64 361.86,359.50 360.00,361.36 358.14,359.50" fill="#E8901E"/>
<circle cx="365.20" cy="359.50" r="1.63" fill="#E8901E"/>
<circle cx="370.10" cy="359.50" r="1.63" fill="#E8901E"/>
<rect x="373.45" y="357.95" width="3.10" height="3.10" rx="0.6" fill="#1E3E7C"/>
<rect x="378.45" y="357.95" width="3.10" height="3.10" rx="0.6" fill="#1E3E7C"/>
<rect x="383.46" y="357.95" width="3.10" height="3.10" rx="0.6" fill="#1E3E7C"/>
<rect x="388.46" y="357.95" width="3.10" height="3.10" rx="0.6" fill="#1E3E7C"/>
<rect x="393.47" y="357.95" width="3.10" height="3.10" rx="0.6" fill="#1E3E7C"/>
<rect x="398.47" y="357.95" width="3.10" height="3.10" rx="0.6" fill="#1E3E7C"/>
<rect x="403.48" y="357.95" width="3.10" height="3.10" rx="0.6" fill="#1E3E7C"/>
<rect x="408.48" y="357.95" width="3.10" height="3.10" rx="0.6" fill="#1E3E7C"/>
<rect x="413.49" y="357.95" width="3.10" height="3.10" rx="0.6" fill="#1E3E7C"/>
<rect x="418.50" y="357.95" width="3.10" height="3.10" rx="0.6" fill="#1E3E7C"/>
<rect x="423.50" y="357.95" width="3.10" height="3.10" rx="0.6" fill="#1E3E7C"/>
<rect x="428.50" y="357.95" width="3.10" height="3.10" rx="0.6" fill="#1E3E7C"/>
<rect x="433.51" y="357.95" width="3.10" height="3.10" rx="0.6" fill="#1E3E7C"/>
<rect x="438.51" y="357.95" width="3.10" height="3.10" rx="0.6" fill="#1E3E7C"/>
<rect x="443.52" y="357.95" width="3.10" height="3.10" rx="0.6" fill="#1E3E7C"/>
<rect x="448.52" y="357.95" width="3.10" height="3.10" rx="0.6" fill="#1E3E7C"/>
<rect x="453.53" y="357.95" width="3.10" height="3.10" rx="0.6" fill="#1E3E7C"/>
<rect x="458.53" y="357.95" width="3.10" height="3.10" rx="0.6" fill="#1E3E7C"/>
<rect x="463.54" y="357.95" width="3.10" height="3.10" rx="0.6" fill="#1E3E7C"/>
<rect x="468.55" y="357.95" width="3.10" height="3.10" rx="0.6" fill="#1E3E7C"/>
<rect x="473.55" y="357.95" width="3.10" height="3.10" rx="0.6" fill="#1E3E7C"/>
<rect x="478.56" y="357.95" width="3.10" height="3.10" rx="0.6" fill="#1E3E7C"/>
<rect x="39.60" y="393.20" width="133.00" height="27.60" fill="#A8C9EC" />
<text x="106.40" y="408.70" font-size="6.0" text-anchor="middle" fill="#F2F7FD" stroke="#F2F7FD" stroke-width="0.15" >IGHM</text>
<rect x="366.50" y="393.20" width="10.50" height="27.60" fill="#A8C9EC" />
<text x="371.60" y="409.30" font-size="6.0" text-anchor="middle" fill="#F2F7FD" stroke="#F2F7FD" stroke-width="0.15" >E&#956;</text>
<rect x="406.20" y="393.20" width="74.60" height="27.60" fill="#A8C9EC" />
<text x="443.80" y="408.80" font-size="6.0" text-anchor="middle" fill="#F2F7FD" stroke="#F2F7FD" stroke-width="0.15" >J</text>
<rect x="483.60" y="393.20" width="23.70" height="27.60" fill="#A8C9EC" />
<text x="495.10" y="408.80" font-size="6.2" text-anchor="middle" fill="#F2F7FD" stroke="#F2F7FD" stroke-width="0.15" >D</text>
<ellipse cx="506.9" cy="406.0" rx="2.5" ry="1.05" transform="rotate(-38 506.9 406.0)" fill="#111"/>
</svg>
</body></html>
